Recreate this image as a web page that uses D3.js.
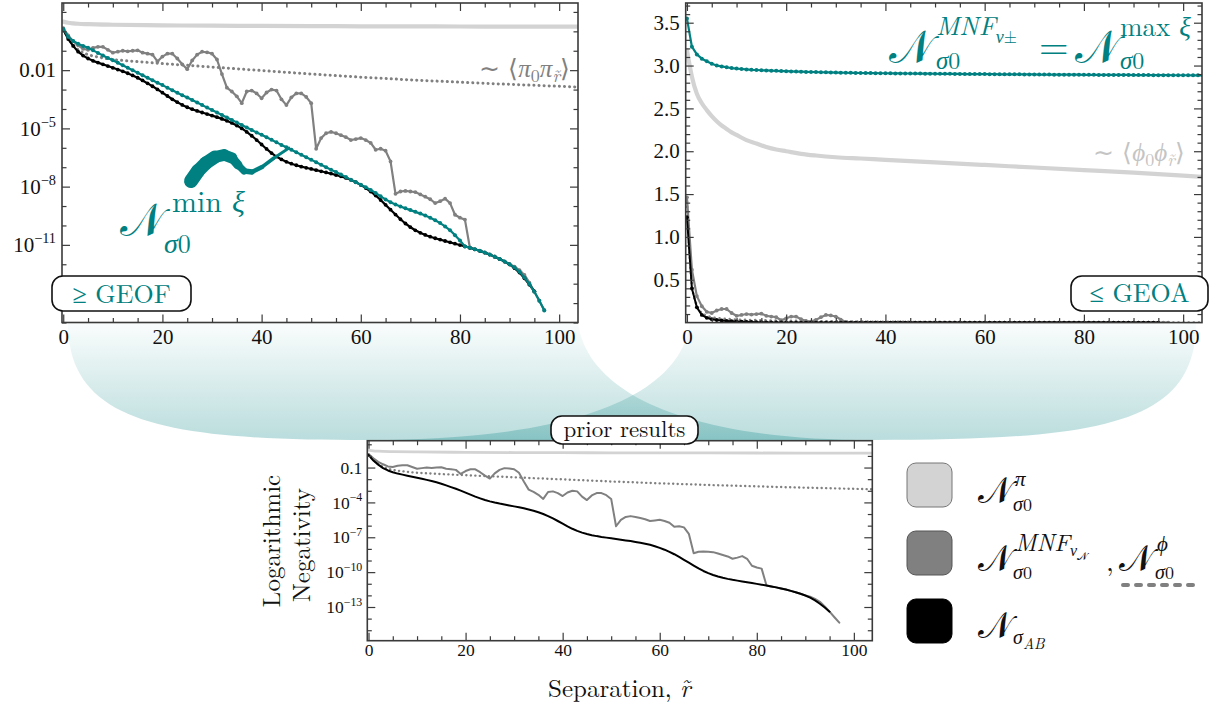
<!DOCTYPE html>
<html><head><meta charset="utf-8">
<script src="https://cdn.jsdelivr.net/npm/d3@7"></script>
<style>
body{margin:0;background:#fff}
svg{display:block}
text{font-family:'Latin Modern Roman','Liberation Serif',serif}
</style>
</head><body>
<svg id="c" width="1218" height="705"></svg>
<script>
// ---------------- DATA ----------------
const xTickValues = [0, 20, 40, 60, 80, 100];
const xMinorValues = [5, 10, 15, 25, 30, 35, 45, 50, 55, 65, 70, 75, 85, 90, 95];
const logTickTop = [-2, -5, -8, -11];
const logTickBottom = [-1, -4, -7, -10, -13];
const linTickTR = [0.5, 1.0, 1.5, 2.0, 2.5, 3.0, 3.5];

// log10 of logarithmic negativity, index = separation r (0,1,2,...)
const logNegAB = [0.09,-0.40,-0.75,-1.05,-1.25,-1.40,-1.52,-1.61,-1.70,-1.79,-1.88,-1.97,-2.06,-2.16,-2.27,-2.39,-2.53,-2.68,-2.83,-2.99,
-3.16,-3.33,-3.50,-3.65,-3.79,-3.91,-4.01,-4.10,-4.18,-4.26,-4.34,-4.42,-4.51,-4.61,-4.72,-4.85,-5.00,-5.18,-5.38,-5.60,
-5.83,-6.06,-6.27,-6.45,-6.60,-6.72,-6.82,-6.90,-6.97,-7.03,-7.09,-7.15,-7.21,-7.27,-7.33,-7.40,-7.47,-7.55,-7.65,-7.77,
-7.91,-8.07,-8.25,-8.46,-8.69,-8.94,-9.19,-9.44,-9.68,-9.90,-10.09,-10.25,-10.38,-10.49,-10.58,-10.66,-10.73,-10.80,-10.87,-10.94,
-11.01,-11.08,-11.15,-11.23,-11.31,-11.40,-11.50,-11.61,-11.73,-11.86,-12.01,-12.20,-12.43,-12.72,-13.05,-13.40];

const logNegMinXi = [0.12,-0.28,-0.50,-0.64,-0.75,-0.85,-0.98,-1.11,-1.24,-1.37,-1.49,-1.62,-1.75,-1.88,-2.01,-2.13,-2.26,-2.39,-2.52,-2.65,
-2.77,-2.90,-3.03,-3.16,-3.29,-3.41,-3.54,-3.67,-3.80,-3.93,-4.05,-4.18,-4.31,-4.44,-4.57,-4.69,-4.82,-4.95,-5.08,-5.21,
-5.33,-5.46,-5.59,-5.72,-5.85,-5.97,-6.10,-6.23,-6.36,-6.49,-6.61,-6.74,-6.87,-7.00,-7.13,-7.25,-7.38,-7.51,-7.64,-7.77,
-7.90,-8.03,-8.17,-8.33,-8.50,-8.66,-8.80,-8.92,-9.02,-9.12,-9.21,-9.30,-9.39,-9.49,-9.60,-9.73,-9.88,-10.05,-10.25,-10.50,
-10.78,-11.08,-11.15,-11.23,-11.31,-11.40,-11.50,-11.61,-11.73,-11.86,-12.00,-12.17,-12.38,-12.68,-13.02,-13.42,-13.88,-14.38];

const logNegMNF = [0.165,-0.21,-0.51,-0.72,-0.90,-0.95,-0.85,-0.80,-0.80,-0.95,-1.10,-1.05,-1.00,-1.03,-1.00,-0.98,-1.10,-1.15,-1.20,-1.55,
-1.30,-1.15,-1.15,-1.40,-1.70,-1.95,-1.50,-1.20,-1.05,-1.08,-1.15,-1.45,-2.20,-2.90,-3.10,-3.35,-3.70,-3.10,-3.05,-3.20,
-3.45,-3.15,-3.00,-3.05,-3.50,-3.80,-3.40,-3.20,-3.20,-3.38,-3.70,-6.05,-5.50,-5.25,-5.18,-5.25,-5.35,-5.45,-5.60,-5.55,
-5.50,-5.60,-5.75,-6.10,-6.05,-6.15,-6.70,-8.37,-8.25,-8.22,-8.25,-8.28,-8.40,-8.52,-8.65,-8.85,-8.75,-8.62,-8.85,-9.45,
-9.60,-9.70,-11.15,-11.23,-11.31,-11.40,-11.50,-11.61,-11.73,-11.86,-12.00,-12.12,-12.30,-12.55,-12.95,-13.40,-13.88,-14.35];

// dotted N^phi (log10), sampled separations
const sepPhiDotted = [0,1,2,3,4,5,6,7,8,10,12,15,20,25,30,35,40,45,50,55,60,65,70,75,80,85,90,95,100,104];
const logNegPhiDotted = [0.15,-0.35,-0.70,-0.95,-1.10,-1.20,-1.27,-1.32,-1.37,-1.45,-1.50,-1.56,-1.66,-1.75,-1.84,-1.93,-2.02,-2.11,-2.20,-2.28,-2.36,-2.43,-2.50,-2.56,-2.62,-2.68,-2.73,-2.78,-2.83,-2.87];

// light grey N^pi (log10)
const sepPi = [0,1,2,3,5,10,20,30,40,50,60,70,80,90,104];
const logNegPi = [0.50,0.44,0.41,0.39,0.37,0.34,0.31,0.29,0.28,0.27,0.26,0.255,0.25,0.245,0.24];

// top-right: N^{MNF nu±} = N^{max xi}, linear, index = separation
const negMaxXi = [3.55,3.22,3.13,3.08,3.05,3.02,3.00,2.99,2.98,2.97,2.965,2.96,2.955,2.95,2.948,2.945,2.943,2.94,2.938,2.936,
2.934,2.932,2.930,2.928,2.926,2.925,2.924,2.922,2.921,2.920,2.918,2.917,2.916,2.915,2.914,2.913,2.912,2.912,2.911,2.910,
2.910,2.909,2.908,2.908,2.907,2.907,2.906,2.906,2.905,2.905,2.904,2.904,2.903,2.903,2.902,2.902,2.901,2.901,2.900,2.900,
2.900,2.899,2.899,2.898,2.898,2.898,2.897,2.897,2.896,2.896,2.896,2.895,2.895,2.895,2.894,2.894,2.894,2.893,2.893,2.893,
2.892,2.892,2.892,2.891,2.891,2.891,2.891,2.890,2.890,2.890,2.889,2.889,2.889,2.889,2.888,2.888,2.888,2.888,2.887,2.887,
2.887,2.887,2.886,2.886,2.886];

// top-right light grey ~<phi0 phi_r>
const sepPhiCorr = [0,1,2,3,4,5,6,7,8,9,10,12,14,16,18,20,23,26,30,35,40,50,60,70,80,90,100,104];
const negPhiCorr = [3.18,2.87,2.67,2.56,2.48,2.41,2.35,2.30,2.26,2.22,2.19,2.13,2.09,2.05,2.02,2.00,1.97,1.95,1.93,1.915,1.90,1.87,1.84,1.81,1.78,1.75,1.715,1.70];

// ---------------- DRAW ----------------
const TEAL = '#008080', GREY = '#808080', LIGHT = '#d3d3d3', FRAME = '#3a3a3a';
const TICKFONT = "'Liberation Serif', serif";
const GR = "'Liberation Serif', serif";
const svg = d3.select('#c');
const defs = svg.append('defs');

const grad = defs.append('linearGradient').attr('id', 'fg')
  .attr('gradientUnits', 'userSpaceOnUse').attr('x1', 0).attr('y1', 323).attr('x2', 0).attr('y2', 440);
grad.append('stop').attr('offset', 0).attr('stop-color', TEAL).attr('stop-opacity', 0.02);
grad.append('stop').attr('offset', 1).attr('stop-color', TEAL).attr('stop-opacity', 0.27);

svg.append('path').attr('fill', 'url(#fg)')
  .attr('d', 'M68,323 C68,425 170,440 367,440 L872,440 C690,440 588,395 578,323 Z');
svg.append('path').attr('fill', 'url(#fg)')
  .attr('d', 'M690,323 C680,395 578,440 367,440 L872,440 C1100,440 1196,425 1196,323 Z');

const xDom = [-0.25, 103.8];
function makePanel(id, x0, x1, y0, y1, yScale) {
  const x = d3.scaleLinear().domain(xDom).range([x0, x1]);
  const y = yScale.range([y1, y0]);
  defs.append('clipPath').attr('id', 'clip' + id).append('rect')
    .attr('x', x0).attr('y', y0).attr('width', x1 - x0).attr('height', y1 - y0);
  svg.append('rect').attr('x', x0).attr('y', y0).attr('width', x1 - x0).attr('height', y1 - y0).attr('fill', '#fff');
  const g = svg.append('g').attr('clip-path', `url(#clip${id})`);
  return {x, y, g, x0, x1, y0, y1};
}

const TL = makePanel('tl', 62, 578, 3, 322.5, d3.scaleLog().domain([1e-15, Math.pow(10, 1.46)]));
const TR = makePanel('tr', 685.7, 1202, 3, 322.6, d3.scaleLinear().domain([0, 3.73]));
const BP = makePanel('b', 367.3, 872.3, 440.7, 640.7, d3.scaleLog().domain([Math.pow(10, -15.9), Math.pow(10, 1.31)]));

function supLabel(sel, fs) {
  sel.each(function (d) {
    const t = d3.select(this);
    const e = Math.round(Math.log10(d));
    if (e === -1) { t.text('0.1'); return; }
    if (e === -2) { t.text('0.01'); return; }
    t.text('');
    t.append('tspan').text('10');
    t.append('tspan').attr('dy', -fs * 0.42).attr('font-size', fs * 0.68).text('\u2212' + Math.abs(e));
  });
}

function frame(P, yMajor, yMinor, fs, xPad, yPad, yFmt) {
  const g = svg.append('g');
  const bottom = d3.axisBottom(P.x).tickValues(xTickValues).tickSize(-8).tickSizeOuter(0).tickPadding(xPad).tickFormat(d3.format('d'));
  const bottomMin = d3.axisBottom(P.x).tickValues(xMinorValues).tickSize(-4.5).tickSizeOuter(0).tickFormat('');
  const top = d3.axisTop(P.x).tickValues(xTickValues).tickSize(-8).tickSizeOuter(0).tickFormat('');
  const topMin = d3.axisTop(P.x).tickValues(xMinorValues).tickSize(-4.5).tickSizeOuter(0).tickFormat('');
  const left = d3.axisLeft(P.y).tickValues(yMajor).tickSize(-8).tickSizeOuter(0).tickPadding(yPad);
  const leftMin = d3.axisLeft(P.y).tickValues(yMinor).tickSize(-4.5).tickSizeOuter(0).tickFormat('');
  const right = d3.axisRight(P.y).tickValues(yMajor).tickSize(-8).tickSizeOuter(0).tickFormat('');
  const rightMin = d3.axisRight(P.y).tickValues(yMinor).tickSize(-4.5).tickSizeOuter(0).tickFormat('');
  if (yFmt) left.tickFormat(yFmt);
  const axes = [
    [bottom, `translate(0,${P.y1})`], [bottomMin, `translate(0,${P.y1})`],
    [top, `translate(0,${P.y0})`], [topMin, `translate(0,${P.y0})`],
    [left, `translate(${P.x0},0)`], [leftMin, `translate(${P.x0},0)`],
    [right, `translate(${P.x1},0)`], [rightMin, `translate(${P.x1},0)`]
  ];
  const sels = axes.map(([ax, tr]) => {
    const a = g.append('g').attr('transform', tr).call(ax);
    a.select('.domain').remove();
    a.selectAll('line').attr('stroke', FRAME).attr('stroke-width', 1.2);
    a.selectAll('text').style('font-family', TICKFONT).attr('font-size', fs).attr('fill', '#111');
    return a;
  });
  g.append('rect').attr('x', P.x0).attr('y', P.y0).attr('width', P.x1 - P.x0).attr('height', P.y1 - P.y0)
    .attr('fill', 'none').attr('stroke', FRAME).attr('stroke-width', 1.6);
  return sels;
}

function series(P, pts, opt) {
  const line = d3.line().x(d => P.x(d[0])).y(d => P.y(d[1])).curve(opt.curve || d3.curveLinear);
  P.g.append('path').datum(pts).attr('d', line).attr('fill', 'none')
    .attr('stroke', opt.color).attr('stroke-width', opt.w)
    .attr('stroke-dasharray', opt.dash || null)
    .attr('stroke-linecap', 'round').attr('stroke-linejoin', 'round');
  if (opt.dot) {
    P.g.append('g').selectAll('circle').data(pts).join('circle')
      .attr('cx', d => P.x(d[0])).attr('cy', d => P.y(d[1])).attr('r', opt.dot).attr('fill', opt.color);
  }
}
const idxLog = arr => arr.map((v, i) => [i, Math.pow(10, v)]);
const keyLog = (sep, arr) => sep.map((r, i) => [r, Math.pow(10, arr[i])]);
const idxLin = arr => arr.map((v, i) => [i, v]);
const keyLin = (sep, arr) => sep.map((r, i) => [r, arr[i]]);

const decades = d3.range(-15, 2);
// ---- top-left ----
series(TL, keyLog(sepPi, logNegPi), {color: LIGHT, w: 4.2, curve: d3.curveMonotoneX});
series(TL, keyLog(sepPhiDotted, logNegPhiDotted), {color: GREY, w: 3, dash: '0.1 5', curve: d3.curveMonotoneX});
series(TL, idxLog(logNegMNF), {color: GREY, w: 2.2, dot: 1.9});
series(TL, idxLog(logNegAB), {color: '#000', w: 2.2, dot: 1.9});
series(TL, idxLog(logNegMinXi), {color: TEAL, w: 2.2, dot: 2.0});
frame(TL, logTickTop.map(e => Math.pow(10, e)), decades.filter(e => !logTickTop.includes(e)).map(e => Math.pow(10, e)), 21, 6.5, 6)
  [4].selectAll('.tick text').call(supLabel, 21);

// ---- top-right ----
series(TR, keyLin(sepPhiCorr, negPhiCorr), {color: LIGHT, w: 4.2, curve: d3.curveMonotoneX});
series(TR, keyLog(sepPhiDotted, logNegPhiDotted), {color: GREY, w: 2.6, dash: '0.1 5', curve: d3.curveMonotoneX});
series(TR, idxLog(logNegMNF), {color: GREY, w: 2.2, dot: 1.9});
series(TR, idxLog(logNegAB), {color: '#000', w: 2.0, dot: 1.9});
series(TR, idxLin(negMaxXi), {color: TEAL, w: 2.2, dot: 2.0});
const linMinor = d3.range(1, 38).map(k => k / 10).filter(v => Math.abs(v * 2 - Math.round(v * 2)) > 1e-6);
frame(TR, linTickTR, linMinor, 21, 6.5, 6, d3.format('.1f'));

// ---- bottom ----
series(BP, keyLog(sepPi, logNegPi), {color: LIGHT, w: 2.8, curve: d3.curveMonotoneX});
series(BP, keyLog(sepPhiDotted, logNegPhiDotted), {color: GREY, w: 2.4, dash: '0.1 4.4', curve: d3.curveMonotoneX});
series(BP, idxLog(logNegMNF), {color: GREY, w: 2.0});
series(BP, idxLog(logNegAB), {color: '#000', w: 2.0});
frame(BP, logTickBottom.map(e => Math.pow(10, e)), d3.range(-15, 2).filter(e => !logTickBottom.includes(e)).map(e => Math.pow(10, e)), 17.5, 2.5, 5)
  [4].selectAll('.tick text').call(supLabel, 17.5);

// ---------------- ANNOTATIONS ----------------
const NCAL = '\u{1D4A9}';
function T(x, y, s, size, color, o = {}) {
  const t = svg.append('text').attr('x', x).attr('y', y).attr('font-size', size).attr('fill', color)
    .attr('text-anchor', o.anchor || 'start');
  if (o.italic) t.attr('font-style', 'italic');
  t.text(s);
  return t;
}
// one text element built from tspans: {t, x, y, dy, s, i, f}
function MX(color, pieces) {
  const t = svg.append('text').attr('fill', color);
  pieces.forEach(p => {
    const s = t.append('tspan').text(p.t);
    if (p.x != null) s.attr('x', p.x);
    if (p.y != null) s.attr('y', p.y);
    if (p.dy != null) s.attr('dy', p.dy);
    if (p.s) s.attr('font-size', p.s);
    if (p.i) s.attr('font-style', 'italic');
    if (p.f) s.style('font-family', p.f);
  });
  return t;
}

// squiggle arrow
const sq = [[191,181],[198,171],[206,163],[215,157],[224,155],[232,158],[238,165],[244,171],[252,172],[262,167],[274,158],[289,148]];
const sqW = [14,13.5,13,12,11,9,7,5.5,4.5,3.5,2.8,2];
for (let i = 0; i < sq.length - 1; i++) {
  svg.append('line').attr('x1', sq[i][0]).attr('y1', sq[i][1]).attr('x2', sq[i+1][0]).attr('y2', sq[i+1][1])
    .attr('stroke', TEAL).attr('stroke-width', sqW[i]).attr('stroke-linecap', 'round');
}
// N^{min xi}_{sigma0}
MX(TEAL, [
  {t: NCAL, x: 120, y: 236, s: 46},
  {t: 'min ', x: 172, y: 212, s: 30},
  {t: '\u03BE', s: 30, i: true, f: GR},
  {t: '\u03C3', x: 164, y: 253, s: 28, i: true, f: GR},
  {t: '0', s: 26}
]);

// right label
MX(TEAL, [
  {t: NCAL, x: 889, y: 63, s: 46},
  {t: 'MNF', x: 936, y: 35, s: 26, i: true},
  {t: '\u03BD', y: 43, s: 18, i: true, f: GR},
  {t: '\u00B1', s: 17},
  {t: '\u03C3', x: 936, y: 69, s: 25, i: true, f: GR},
  {t: '0', s: 24},
  {t: '=', x: 1039, y: 59, s: 38},
  {t: NCAL, x: 1075, y: 63, s: 46},
  {t: 'max ', x: 1120, y: 36, s: 27},
  {t: '\u03BE', s: 27, i: true, f: GR},
  {t: '\u03C3', x: 1120, y: 69, s: 25, i: true, f: GR},
  {t: '0', s: 24}
]);

// correlator labels
function corr(x, y, sym, color, size) {
  MX(color, [
    {t: '\u223C \u27E8', x: x, y: y, s: size},
    {t: sym, s: size, i: true, f: GR},
    {t: '0', dy: 5, s: size * 0.72},
    {t: sym, dy: -5, s: size, i: true, f: GR},
    {t: 'r\u0303', dy: 5, s: size * 0.72, i: true},
    {t: '\u27E9', dy: -5, s: size}
  ]);
}
corr(479, 77, '\u03C0', GREY, 25);
corr(1093, 161, '\u03D5', '#c4c4c4', 25);

// boxes
function box(x, y, w, h, label, color, size, ty) {
  svg.append('rect').attr('x', x).attr('y', y).attr('width', w).attr('height', h).attr('rx', 11)
    .attr('fill', '#fff').attr('stroke', '#111').attr('stroke-width', 1.6);
  T(x + w / 2, ty, label, size, color, {anchor: 'middle'});
}
box(52, 276, 139, 35, '\u2265 GEOF', TEAL, 26, 303);
box(1071, 276, 137, 35, '\u2264 GEOA', TEAL, 26, 302);
box(551, 416, 147, 28, 'prior results', '#111', 23, 437);

// axis titles
svg.append('text').attr('transform', 'translate(280,541) rotate(-90)').attr('text-anchor', 'middle')
  .attr('font-size', 25).attr('fill', '#111').text('Logarithmic');
svg.append('text').attr('transform', 'translate(310,545) rotate(-90)').attr('text-anchor', 'middle')
  .attr('font-size', 25).attr('fill', '#111').text('Negativity');
MX('#111', [{t: 'Separation, ', x: 548, y: 697, s: 25}, {t: 'r\u0303', s: 25, i: true}]);

// legend
const legendColors = [LIGHT, GREY, '#000'];
const legendStroke = ['#777', '#555', '#000'];
const legendY = [463, 531, 599];
legendY.forEach((y, i) => {
  svg.append('rect').attr('x', 907).attr('y', y).attr('width', 45).attr('height', 44).attr('rx', 9)
    .attr('fill', legendColors[i]).attr('stroke', legendStroke[i]).attr('stroke-width', 1);
});
MX('#111', [
  {t: NCAL, x: 978, y: 503, s: 36},
  {t: '\u03C0', x: 1015, y: 486, s: 21, i: true, f: GR},
  {t: '\u03C3', x: 1013, y: 511, s: 20, i: true, f: GR},
  {t: '0', s: 18}
]);
MX('#111', [
  {t: NCAL, x: 978, y: 571, s: 36},
  {t: 'MNF', x: 1015, y: 551, s: 24, i: true},
  {t: '\u03BD', y: 556, s: 16, i: true, f: GR},
  {t: NCAL, y: 560, s: 11},
  {t: '\u03C3', x: 1013, y: 579, s: 20, i: true, f: GR},
  {t: '0', s: 18},
  {t: ',', x: 1106, y: 571, s: 28},
  {t: NCAL, x: 1119, y: 571, s: 36},
  {t: '\u03D5', x: 1157, y: 551, s: 21, i: true, f: GR},
  {t: '\u03C3', x: 1155, y: 579, s: 20, i: true, f: GR},
  {t: '0', s: 18}
]);
svg.append('line').attr('x1', 1123).attr('x2', 1196).attr('y1', 585).attr('y2', 585)
  .attr('stroke', GREY).attr('stroke-width', 4).attr('stroke-dasharray', '5 8').attr('stroke-linecap', 'round');
MX('#111', [
  {t: NCAL, x: 978, y: 638, s: 36},
  {t: '\u03C3', x: 1013, y: 644, s: 20, i: true, f: GR},
  {t: 'AB', y: 649, s: 15, i: true}
]);
</script>
</body></html>
